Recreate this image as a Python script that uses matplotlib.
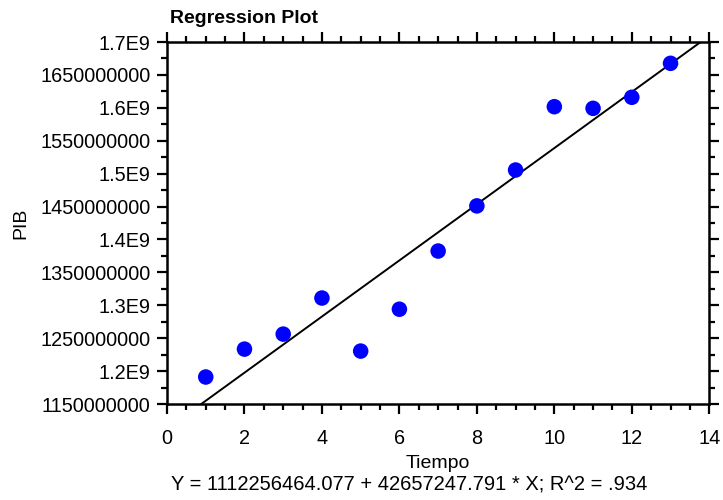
#!/usr/bin/env python3
import matplotlib
matplotlib.use("Agg")
import matplotlib.pyplot as plt
from matplotlib.ticker import MultipleLocator

plt.rcParams["font.family"] = ["Liberation Sans", "DejaVu Sans"]

# data
tiempo = [1, 2, 3, 4, 5, 6, 7, 8, 9, 10, 11, 12, 13]
pib = [
    1.191e9, 1.2334e9, 1.2562e9, 1.311e9, 1.2304e9, 1.294e9, 1.3824e9,
    1.451e9, 1.5055e9, 1.6017e9, 1.5992e9, 1.616e9, 1.6676e9,
]
intercept = 1112256464.077
slope = 42657247.791
r_squared = 0.934

y_ticks = [1.15e9, 1.2e9, 1.25e9, 1.3e9, 1.35e9, 1.4e9, 1.45e9, 1.5e9,
           1.55e9, 1.6e9, 1.65e9, 1.7e9]
y_labels = ["1150000000", "1.2E9", "1250000000", "1.3E9", "1350000000", "1.4E9",
            "1450000000", "1.5E9", "1550000000", "1.6E9", "1650000000", "1.7E9"]
x_ticks = [0, 2, 4, 6, 8, 10, 12, 14]

fig = plt.figure(figsize=(7.23, 5.0), dpi=100)
ax = fig.add_axes([0.231, 0.192, 0.750, 0.724])

line_x = [x_ticks[0], x_ticks[-1]]
line_y = [intercept + slope * x for x in line_x]
ax.plot(line_x, line_y, color="black", lw=1.4, zorder=2)
ax.scatter(tiempo, pib, s=125, color="#0000ff", edgecolors="none", zorder=3)

ax.set_xlim(x_ticks[0], x_ticks[-1])
ax.set_ylim(y_ticks[0], y_ticks[-1])
ax.set_xticks(x_ticks)
ax.set_yticks(y_ticks, labels=y_labels)
ax.xaxis.set_minor_locator(MultipleLocator(0.5))
ax.yaxis.set_minor_locator(MultipleLocator(2.5e7))

ax.tick_params(which="both", direction="out", top=True, right=True,
               labeltop=False, labelright=False, width=1.6, labelsize=14.3, color="black")
ax.tick_params(which="major", length=7)
ax.tick_params(which="minor", length=4)
ax.tick_params(axis="x", pad=11)
ax.tick_params(axis="y", pad=5)
for spine in ax.spines.values():
    spine.set_linewidth(1.8)

ax.set_xlabel("Tiempo", fontsize=14, labelpad=5)
ax.set_ylabel("PIB", fontsize=14, labelpad=8)
ax.set_title("Regression Plot", fontsize=14, fontweight="bold", loc="left", pad=14, x=0.006)

fig.text(0.566, 0.03,
         f"Y = {intercept:.3f} + {slope:.3f} * X; R^2 = {str(r_squared)[1:]}",
         ha="center", va="center", fontsize=14.5)

fig.savefig("out.png", dpi=100)
